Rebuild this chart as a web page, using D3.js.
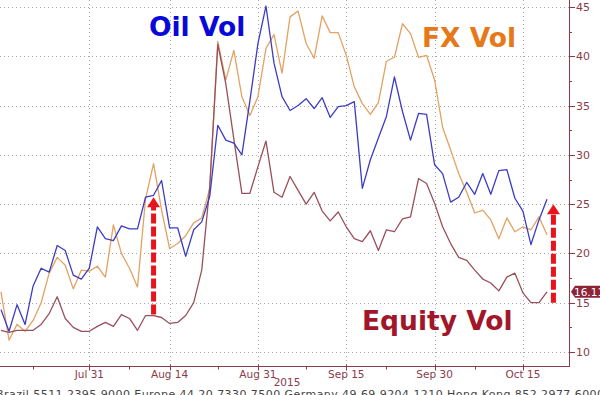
<!DOCTYPE html>
<html>
<head>
<meta charset="utf-8">
<script src="https://cdn.jsdelivr.net/npm/d3@7"></script>
<style>
  html, body { margin: 0; padding: 0; background: #fff; }
  #chart { width: 600px; height: 395px; overflow: hidden; }
  text { font-family: "DejaVu Sans", sans-serif; }
</style>
</head>
<body>
<div id="chart"></div>
<script>
// Cross-asset implied vol, daily from Jul 16 to Oct 20 2015

const startDate = new Date(2015, 6, 16);
const endDate = new Date(2015, 9, 21);

const oilVol = [14.3, 12.1, 14.8, 12.8, 16.7, 18.5, 18.1, 20.8, 20.3, 17.8,
  17.4, 18.5, 22.7, 21.5, 21.3, 22.8, 22.5, 22.5, 25.7, 25.9,
  27.4, 22.6, 22.6, 19.7, 22.4, 23.2, 25.8, 33.0, 31.5, 31.2,
  30.0, 35.5, 41.3, 45.1, 39.3, 35.9, 34.5, 35.0, 35.7, 34.7,
  35.8, 33.8, 34.9, 35.0, 35.4, 26.6, 29.5, 31.7, 33.9, 37.9,
  34.4, 31.5, 34.2, 34.1, 29.0, 28.1, 25.2, 25.7, 27.2, 26.0,
  28.1, 26.0, 28.4, 28.5, 25.6, 24.3, 20.9, 23.4, 25.5];

const fxVol = [16.1, 11.2, 12.8, 12.1, 13.2, 15.0, 18.0, 19.6, 18.8, 16.4,
  18.3, 18.2, 18.7, 17.6, 22.9, 20.0, 18.5, 16.6, 25.5, 29.1,
  24.4, 20.5, 21.0, 21.8, 23.1, 23.6, 26.6, 41.5, 37.6, 40.6,
  35.9, 34.0, 35.9, 40.8, 42.2, 38.3, 44.0, 44.6, 41.3, 39.8,
  44.1, 42.4, 42.4, 40.1, 36.9, 35.2, 34.1, 35.3, 39.5, 39.9,
  43.3, 42.3, 39.9, 40.1, 37.6, 32.8, 30.5, 28.1, 26.2, 24.1,
  24.4, 23.4, 21.5, 23.6, 22.2, 22.7, 22.4, 23.7, 21.9];

const equityVol = [12.2, 12.0, 12.2, 12.2, 12.2, 12.8, 13.9, 15.6, 13.4, 12.5,
  12.1, 12.1, 12.6, 13.0, 12.6, 13.8, 13.4, 12.2, 13.7, 13.7,
  13.5, 12.9, 13.0, 13.7, 15.0, 18.3, 26.8, 41.2, 37.2, 31.6,
  26.1, 26.1, 28.8, 31.4, 26.2, 25.7, 27.8, 26.4, 25.0, 26.2,
  24.3, 23.3, 24.2, 22.7, 21.5, 21.2, 22.3, 20.3, 22.4, 22.2,
  23.5, 23.7, 27.6, 27.1, 25.1, 22.7, 21.0, 19.6, 19.3, 18.3,
  17.4, 17.0, 16.2, 17.6, 18.0, 16.0, 15.0, 15.0, 16.11];

const tickDates = ['2015-07-31', '2015-08-14', '2015-08-31', '2015-09-15', '2015-09-30', '2015-10-15'];
const tickLabels = ['Jul 31', 'Aug 14', 'Aug 31', 'Sep 15', 'Sep 30', 'Oct 15'];
const minorTickDates = ['2015-07-22', '2015-08-07', '2015-08-24', '2015-09-08', '2015-09-22', '2015-10-07'];
const yTicks = [10, 15, 20, 25, 30, 35, 40, 45];
const yMinorTicks = [12.5, 17.5, 22.5, 27.5, 32.5, 37.5, 42.5];

// annotation arrows: [day index, from value, to value]
const arrows = [[19, 13.8, 25.7], [68.8, 15.0, 25.0]];

const width = 600;
const height = 395;
const plotRight = 569;
const plotBottom = 366.5;

// business days on the x axis
const days = d3.timeDay.range(startDate, endDate).filter(d => d.getDay() !== 0 && d.getDay() !== 6);
const fmt = d3.timeFormat('%Y-%m-%d');
const dayIndex = s => days.findIndex(d => fmt(d) === s);

const x = d3.scaleLinear().domain([0, 68]).range([1, 547]);
const y = d3.scaleLinear().domain([10, 45]).range([352, 7]);

const svg = d3.select('#chart').append('svg')
  .attr('width', width)
  .attr('height', height);

svg.append('rect').attr('width', width).attr('height', height).attr('fill', '#fff');

svg.append('clipPath').attr('id', 'plot-clip')
  .append('rect').attr('x', 0).attr('y', 0).attr('width', plotRight).attr('height', plotBottom);

// gridlines
const grid = svg.append('g').attr('stroke', '#a8a8a8').attr('stroke-width', 1).attr('stroke-dasharray', '1,3');
grid.selectAll('line.h').data(yTicks).enter().append('line')
  .attr('x1', 0).attr('x2', plotRight)
  .attr('y1', d => Math.round(y(d)) + 0.5).attr('y2', d => Math.round(y(d)) + 0.5);
grid.selectAll('line.v').data(tickDates).enter().append('line')
  .attr('x1', d => Math.round(x(dayIndex(d))) + 0.5).attr('x2', d => Math.round(x(dayIndex(d))) + 0.5)
  .attr('y1', 0).attr('y2', plotBottom);

// series lines
const line = d3.line().x((d, i) => x(i)).y(d => y(d));
const lines = svg.append('g').attr('clip-path', 'url(#plot-clip)').attr('fill', 'none')
  .attr('stroke-width', 1.3).attr('stroke-linejoin', 'round');
lines.append('path').datum(fxVol).attr('d', line).attr('stroke', '#e2a262');
lines.append('path').datum(equityVol).attr('d', line).attr('stroke', '#99505c');
lines.append('path').datum(oilVol).attr('d', line).attr('stroke', '#3c3cc4');

// axes frame
const axisColor = '#8c3a4a';
svg.append('line').attr('x1', plotRight + 0.5).attr('x2', plotRight + 0.5).attr('y1', 0).attr('y2', plotBottom)
  .attr('stroke', axisColor).attr('stroke-width', 1);
svg.append('line').attr('x1', 0).attr('x2', plotRight + 1).attr('y1', plotBottom).attr('y2', plotBottom)
  .attr('stroke', axisColor).attr('stroke-width', 1);

// right axis
const yAxis = svg.append('g');
yAxis.selectAll('line.major').data(yTicks).enter().append('line')
  .attr('x1', plotRight).attr('x2', plotRight + 6)
  .attr('y1', d => Math.round(y(d)) + 0.5).attr('y2', d => Math.round(y(d)) + 0.5)
  .attr('stroke', axisColor);
yAxis.selectAll('line.minor').data(yMinorTicks).enter().append('line')
  .attr('x1', plotRight).attr('x2', plotRight + 3)
  .attr('y1', d => Math.round(y(d)) + 0.5).attr('y2', d => Math.round(y(d)) + 0.5)
  .attr('stroke', axisColor);
yAxis.selectAll('text').data(yTicks).enter().append('text')
  .attr('x', plotRight + 7).attr('y', d => y(d) + 4)
  .attr('font-size', 11).attr('fill', axisColor)
  .text(d => d);

// bottom axis
const xAxis = svg.append('g');
xAxis.selectAll('line.major').data(tickDates).enter().append('line')
  .attr('x1', d => Math.round(x(dayIndex(d))) + 0.5).attr('x2', d => Math.round(x(dayIndex(d))) + 0.5)
  .attr('y1', plotBottom - 2).attr('y2', plotBottom + 4)
  .attr('stroke', axisColor);
xAxis.selectAll('line.minor').data(minorTickDates).enter().append('line')
  .attr('x1', d => Math.round(x(dayIndex(d))) + 0.5).attr('x2', d => Math.round(x(dayIndex(d))) + 0.5)
  .attr('y1', plotBottom).attr('y2', plotBottom + 3)
  .attr('stroke', axisColor);
xAxis.selectAll('text').data(tickDates).enter().append('text')
  .attr('x', d => x(dayIndex(d))).attr('y', plotBottom + 11)
  .attr('text-anchor', 'middle').attr('font-size', 10.5).attr('fill', axisColor)
  .text((d, i) => tickLabels[i]);
svg.append('text').attr('x', 287).attr('y', plotBottom + 19)
  .attr('text-anchor', 'middle').attr('font-size', 10.5).attr('fill', axisColor)
  .text('2015');

// last value tag
const last = equityVol[equityVol.length - 1];
const ty = y(last);
svg.append('path')
  .attr('d', `M${plotRight + 2},${ty} L${plotRight + 6},${ty - 6} L${width + 4},${ty - 6} L${width + 4},${ty + 6} L${plotRight + 6},${ty + 6} Z`)
  .attr('fill', '#8c2438');
svg.append('text').attr('x', plotRight + 5).attr('y', ty + 3.8)
  .attr('font-size', 10.5).attr('fill', '#fff').text(last.toFixed(2));

// red dashed arrows
const arrowG = svg.append('g');
arrows.forEach(([i, v0, v1]) => {
  const ax = x(i);
  const yTop = y(v1);
  arrowG.append('line')
    .attr('x1', ax).attr('x2', ax)
    .attr('y1', y(v0)).attr('y2', yTop + 9)
    .attr('stroke', '#e8141c').attr('stroke-width', 5)
    .attr('stroke-dasharray', '10,3');
  arrowG.append('path')
    .attr('d', `M${ax},${yTop} L${ax + 6.5},${yTop + 10} L${ax - 6.5},${yTop + 10} Z`)
    .attr('fill', '#e8141c');
});

// series labels
const labels = svg.append('g').attr('font-weight', 'bold').attr('font-size', 26.5);
labels.append('text').attr('x', 149).attr('y', 36).attr('fill', '#0808d8').text('Oil Vol');
labels.append('text').attr('x', 422).attr('y', 47).attr('fill', '#e67818').text('FX Vol');
labels.append('text').attr('x', 362).attr('y', 330).attr('fill', '#a2162a').text('Equity Vol');

// footer, cut off by the frame
svg.append('text').attr('x', -4).attr('y', 397.5)
  .attr('font-size', 11).attr('fill', '#444')
  .attr('textLength', 608)
  .text('Brazil 5511 2395 9000 Europe 44 20 7330 7500 Germany 49 69 9204 1210 Hong Kong 852 2977 6000');
</script>
</body>
</html>
